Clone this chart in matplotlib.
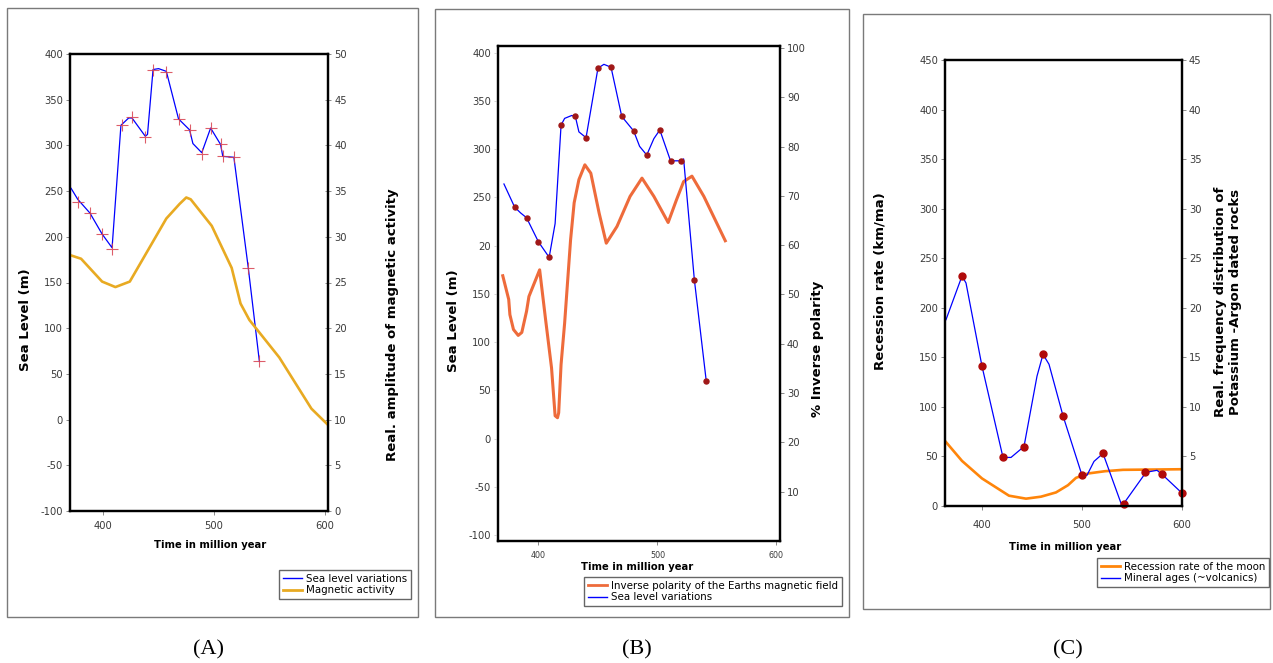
import matplotlib
matplotlib.use("Agg")
import matplotlib.pyplot as plt
from matplotlib.lines import Line2D
from matplotlib.patches import Rectangle

plt.rcParams["axes.unicode_minus"] = False

W, H = 1273, 663

# ---- panel A: sea level vs magnetic activity ----
a_sea_x = [371, 377, 388, 399, 408, 416, 423, 426, 438, 440, 445, 450, 457, 468, 478, 481, 489, 497, 506, 508, 518, 531, 541]
a_sea_y = [253, 241, 226, 203, 188, 322, 330, 330, 310, 312, 383, 384, 381, 329, 317, 302, 292, 319, 301, 288, 287, 166, 64]
a_cross_x = [377, 388, 399, 408, 417, 426, 438, 445, 457, 468, 478, 489, 497, 506, 508, 518, 531, 541]
a_cross_y = [238, 226, 203, 187, 322, 331, 309, 383, 380, 329, 317, 291, 319, 301, 288, 287, 166, 64]
a_mag_x = [370, 380, 399, 411, 424, 457, 469, 475, 479, 498, 516, 524, 532, 559, 588, 604]
a_mag_y = [28.0, 27.6, 25.1, 24.5, 25.1, 32.0, 33.6, 34.3, 34.1, 31.2, 26.6, 22.7, 20.9, 16.8, 11.2, 9.3]

# ---- panel B: sea level vs inverse polarity ----
b_sea_x = [371, 380, 385, 390, 400, 409, 414, 419, 422, 428, 431, 434, 440, 450, 455, 461, 470, 480, 485, 491, 497, 502, 511, 520, 522, 531, 541]
b_sea_y = [264, 240, 234, 229, 204, 188, 223, 325, 332, 335, 334, 318, 312, 384, 388, 385, 334, 319, 303, 294, 311, 320, 288, 288, 290, 165, 60]
b_dot_x = [380, 390, 400, 409, 419, 431, 440, 450, 461, 470, 480, 491, 502, 511, 520, 531, 541]
b_dot_y = [240, 229, 204, 188, 325, 334, 312, 384, 385, 334, 319, 294, 320, 288, 288, 165, 60]
b_inv_x = [370, 375, 376, 379, 383, 386, 390, 392, 401, 406, 411, 414, 416, 417, 419, 422, 427, 430,
           434, 439, 444, 451, 457, 466, 477, 487, 497, 509, 516, 522, 529, 539, 557]
b_inv_y = [53.8, 49.0, 45.9, 42.9, 41.7, 42.3, 46.6, 49.6, 55.0, 44.9, 35.1, 25.4, 25.0, 26.0, 35.8, 44.2, 61.1, 68.6,
           73.3, 76.3, 74.6, 66.5, 60.4, 63.8, 69.9, 73.6, 69.9, 64.6, 69.2, 72.9, 74.0, 69.9, 60.9]
b_left_ticks = [-100, -50, 0, 50, 100, 150, 200, 250, 300, 350, 400]
b_left_labels = ["-100", "-50", "0", "50", "100", "150", "20", "250", "300", "350", "400"]

# ---- panel C: moon recession vs mineral ages ----
c_min_x = [364, 380, 384, 400, 421, 429, 442, 455, 461, 467, 481, 500, 505, 512, 521, 540, 564, 575, 580, 600]
c_min_y = [188, 232, 225, 141, 49, 49, 60, 131, 153, 143, 91, 31, 31, 45, 53, 0, 34, 36, 32, 13]
c_dot_x = [380, 400, 421, 442, 461, 481, 500, 521, 542, 563, 580, 600]
c_dot_y = [232, 141, 49, 60, 153, 91, 31, 53, 2, 34, 32, 13]
c_moon_x = [364, 380, 400, 427, 444, 459, 474, 486, 494, 506, 523, 541, 573, 600]
c_moon_y = [64.5, 45.5, 27.8, 10.4, 7.4, 9.4, 13.7, 21.0, 28.4, 32.8, 35.1, 36.5, 36.8, 37.1]

BLUE = "#0000FF"
TICKC = "#3a3a3a"

fig = plt.figure(figsize=(W / 100, H / 100), dpi=100)


def rect(l, t, r, b):
    return [l / W, 1 - b / H, (r - l) / W, (b - t) / H]


def ftext(px, py, s, **kw):
    fig.text(px / W, 1 - py / H, s, ha="center", va="center", **kw)


def frame(l, t, r, b):
    fig.add_artist(Rectangle((l / W, 1 - b / H), (r - l) / W, (b - t) / H,
                             transform=fig.transFigure, fill=False,
                             edgecolor="#7a7a7a", lw=1.0))


def style(ax, ax2, xsize=7.2):
    for a in (ax, ax2):
        for s in a.spines.values():
            s.set_linewidth(1.6)
            s.set_color("black")
        a.tick_params(direction="out", length=3, width=0.6, color="#777777",
                      labelsize=7.2, labelcolor=TICKC, pad=2)
    ax.tick_params(axis="x", labelsize=xsize, pad=4)


def legend(handles, labels, px, py):
    fig.legend(handles, labels, loc="upper left",
               bbox_to_anchor=(px / W, 1 - py / H), borderaxespad=0,
               fontsize=7.4, frameon=True, fancybox=False, framealpha=1,
               edgecolor="#666666", handlelength=1.9, handletextpad=0.4,
               borderpad=0.35, labelspacing=0.15)


# ================= A =================
frame(7, 8, 418, 617)
ax = fig.add_axes(rect(70, 54, 328, 511))
ax2 = ax.twinx()
ax.plot(a_sea_x, a_sea_y, color=BLUE, lw=0.9, zorder=3)
ax.plot(a_cross_x, a_cross_y, ls="none", marker="+", ms=9, mew=0.8,
        color="#d8404f", alpha=0.85, zorder=4)
ax2.plot(a_mag_x, a_mag_y, color="#E8AA22", lw=1.9, solid_joinstyle="round")
ax.set_xlim(370, 603)
ax.set_ylim(-100, 400)
ax2.set_ylim(0, 50)
ax.set_xticks([400, 500, 600])
ax.set_yticks(range(-100, 401, 50))
ax2.set_yticks(range(0, 51, 5))
style(ax, ax2)
ax2.tick_params(direction="inout", length=5)
ftext(26, 320, "Sea Level (m)", rotation=90, fontsize=9.5, fontweight="bold")
ftext(393, 325, "Real. amplitude of magnetic activity", rotation=90,
      fontsize=9.5, fontweight="bold")
ftext(210, 545, "Time in million year", fontsize=7.2, fontweight="bold")
legend([Line2D([], [], color=BLUE, lw=1),
        Line2D([], [], color="#E8AA22", lw=2)],
       ["Sea level variations", "Magnetic activity"], 279, 570)
ftext(208, 650, "(A)", fontsize=16, family="Liberation Serif")

# ================= B =================
frame(435, 9, 849, 617)
bx = fig.add_axes(rect(498, 46, 780, 541))
bx2 = bx.twinx()
bx2.plot(b_inv_x, b_inv_y, color="#EE6B3B", lw=2.2, solid_joinstyle="round")
bx.plot(b_sea_x, b_sea_y, color=BLUE, lw=0.9)
bx.plot(b_dot_x, b_dot_y, ls="none", marker="o", ms=3.6, color="#A01818")
bx.set_zorder(bx2.get_zorder() + 1)
bx.patch.set_visible(False)
bx.set_xlim(366, 603)
bx.set_ylim(-106, 407)
bx2.set_ylim(0, 100.4)
bx.set_xticks([400, 500, 600])
bx.set_yticks(b_left_ticks)
bx.set_yticklabels(b_left_labels)
bx2.set_yticks(range(10, 101, 10))
style(bx, bx2, xsize=5.8)
bx.tick_params(axis="y", color="#cccccc")
ftext(453, 321, "Sea Level (m)", rotation=90, fontsize=9.5, fontweight="bold")
ftext(818, 349, "% Inverse polarity", rotation=90, fontsize=9.5, fontweight="bold")
ftext(637, 567, "Time in million year", fontsize=7.2, fontweight="bold")
legend([Line2D([], [], color="#EE6B3B", lw=2),
        Line2D([], [], color=BLUE, lw=1)],
       ["Inverse polarity of the Earths magnetic field", "Sea level variations"],
       584, 577)
ftext(637, 650, "(B)", fontsize=16, family="Liberation Serif")

# ================= C =================
frame(863, 14, 1270, 609)
cx = fig.add_axes(rect(945, 60, 1182, 506))
cx2 = cx.twinx()
cx.plot(c_moon_x, c_moon_y, color="#FF850A", lw=1.9, solid_joinstyle="round")
cx.plot(c_min_x, c_min_y, color=BLUE, lw=0.9)
cx.plot(c_dot_x, c_dot_y, ls="none", marker="o", ms=5, color="#B00A0A",
        clip_on=False, zorder=5)
cx.set_xlim(363, 600)
cx.set_ylim(0, 450)
cx2.set_ylim(0, 45)
cx.set_xticks([400, 500, 600])
cx.set_yticks(range(0, 451, 50))
cx2.set_yticks(range(5, 46, 5))
style(cx, cx2)
cx.tick_params(axis="x", pad=7)
ftext(880, 281, "Recession rate (km/ma)", rotation=90, fontsize=9.5, fontweight="bold")
ftext(1228, 302, "Real. frequency distribution of\nPotassium -Argon dated rocks",
      rotation=90, fontsize=9.5, fontweight="bold", linespacing=1.2)
ftext(1065, 547, "Time in million year", fontsize=7.2, fontweight="bold")
legend([Line2D([], [], color="#FF850A", lw=2),
        Line2D([], [], color=BLUE, lw=1)],
       ["Recession rate of the moon", "Mineral ages (~volcanics)"], 1097, 558)
ftext(1068, 650, "(C)", fontsize=16, family="Liberation Serif")

fig.savefig("out.png", dpi=100)
